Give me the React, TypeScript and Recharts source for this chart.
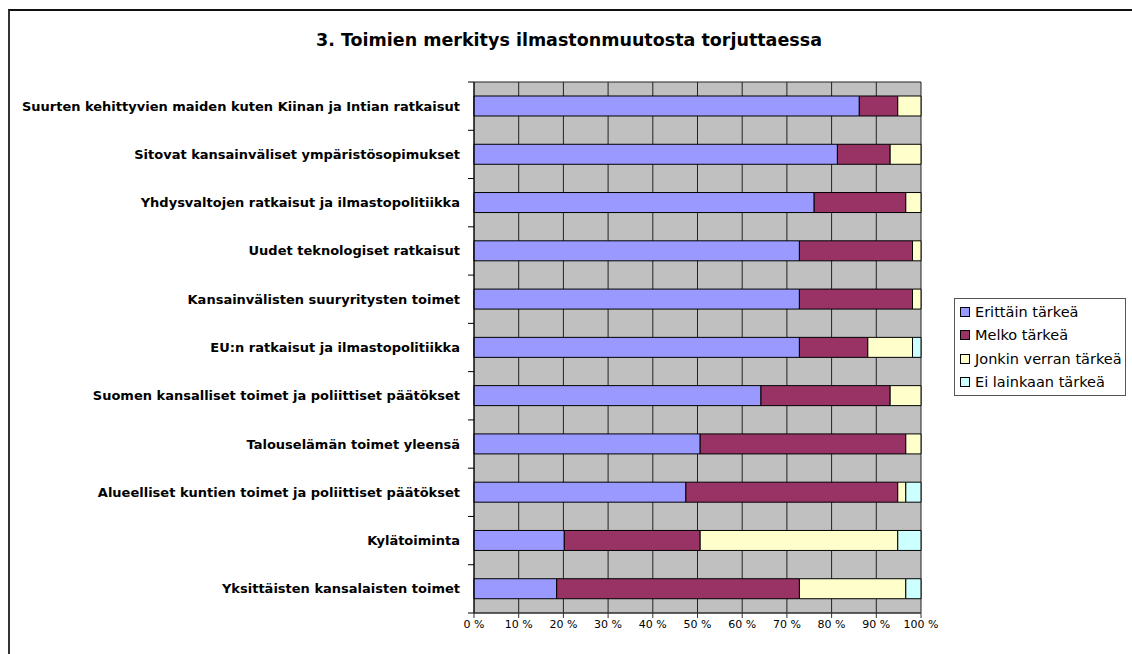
import { BarChart, Bar, XAxis, YAxis, CartesianGrid, Legend } from 'recharts';

const categories = [
  'Suurten kehittyvien maiden kuten Kiinan ja Intian ratkaisut',
  'Sitovat kansainväliset ympäristösopimukset',
  'Yhdysvaltojen ratkaisut ja ilmastopolitiikka',
  'Uudet teknologiset ratkaisut',
  'Kansainvälisten suuryritysten toimet',
  'EU:n ratkaisut ja ilmastopolitiikka',
  'Suomen kansalliset toimet ja poliittiset päätökset',
  'Talouselämän toimet yleensä',
  'Alueelliset kuntien toimet ja poliittiset päätökset',
  'Kylätoiminta',
  'Yksittäisten kansalaisten toimet',
];

const erittain = [86.2, 81.3, 76.1, 72.8, 72.8, 72.8, 64.2, 50.6, 47.4, 20.2, 18.5];
const melko = [8.6, 11.8, 20.5, 25.3, 25.3, 15.3, 28.9, 46.0, 47.4, 30.4, 54.3];
const jonkin = [5.2, 6.9, 3.4, 1.9, 1.9, 10.0, 6.9, 3.4, 1.8, 44.2, 23.8];
const ei = [0, 0, 0, 0, 0, 1.9, 0, 0, 3.4, 5.2, 3.4];

const seriesNames = ['Erittäin tärkeä', 'Melko tärkeä', 'Jonkin verran tärkeä', 'Ei lainkaan tärkeä'];
const seriesColors = ['#9999FF', '#993366', '#FFFFCC', '#CCFFFF'];
const xTicks = [0, 10, 20, 30, 40, 50, 60, 70, 80, 90, 100];

const data = categories.map((c, i) => ({
  name: c,
  s0: erittain[i],
  s1: melko[i],
  s2: jonkin[i],
  s3: ei[i],
}));

const FONT = '"DejaVu Sans", Tahoma, sans-serif';
const W = 1132;
const H = 654;
const M = { top: 82, right: 211, bottom: 0, left: 0 };
const X_AXIS_H = 41;
const Y_AXIS_W = 474;
const plotH = H - M.top - M.bottom - X_AXIS_H;
const band = plotH / categories.length;

const CategoryTick = (props: any) => {
  const { x, y, payload, index } = props;
  const ax = Y_AXIS_W;
  return (
    <g>
      <line x1={ax - 6} x2={ax} y1={y - band / 2} y2={y - band / 2} stroke="#000" />
      {index === categories.length - 1 && (
        <line x1={ax - 6} x2={ax} y1={y + band / 2} y2={y + band / 2} stroke="#000" />
      )}
      <text
        x={x - 6}
        y={y}
        dy={4.5}
        textAnchor="end"
        fontFamily={FONT}
        fontWeight="bold"
        fontSize={13}
        fill="#000"
      >
        {payload.value}
      </text>
    </g>
  );
};

const LegendBox = (props: any) => {
  const items = [...(props.payload || [])].sort(
    (a: any, b: any) => seriesNames.indexOf(a.value) - seriesNames.indexOf(b.value)
  );
  return (
    <div
      style={{
        border: '1px solid #555',
        background: '#fff',
        padding: '1px 0 1px 5px',
        fontFamily: FONT,
        fontSize: 14.5,
        color: '#000',
        boxSizing: 'border-box',
      }}
    >
      {items.map((p: any) => (
        <div key={p.value} style={{ display: 'flex', alignItems: 'center', height: 23.5, whiteSpace: 'nowrap' }}>
          <span
            style={{
              width: 8,
              height: 8,
              border: '1px solid #000',
              background: p.color,
              marginRight: 5,
              display: 'inline-block',
            }}
          />
          <span>{p.value}</span>
        </div>
      ))}
    </div>
  );
};

export default function App() {
  return (
    <div style={{ position: 'absolute', left: 0, top: 0, width: W, height: H, background: '#fff', overflow: 'hidden' }}>
      <div
        style={{
          position: 'absolute',
          left: 8,
          top: 9,
          width: W,
          height: H,
          borderTop: '2px solid #111',
          borderLeft: '2px solid #333',
        }}
      />
      <div
        style={{
          position: 'absolute',
          left: 0,
          top: 30,
          width: 1138,
          textAlign: 'center',
          fontFamily: FONT,
          fontWeight: 'bold',
          fontSize: 17.5,
          color: '#000',
        }}
      >
        3. Toimien merkitys ilmastonmuutosta torjuttaessa
      </div>
      <div style={{ position: 'absolute', left: 0, top: 0 }}>
        <BarChart
          width={W}
          height={H}
          data={data}
          layout="vertical"
          margin={M}
          barCategoryGap="29%"
        >
          <CartesianGrid
            fill="#C0C0C0"
            fillOpacity={1}
            stroke="#222"
            horizontalCoordinatesGenerator={({ offset }: any) => [offset.top, offset.top + offset.height]}
          />
          <XAxis
            type="number"
            domain={[0, 100]}
            ticks={xTicks}
            tickFormatter={(v: number) => v + ' %'}
            height={X_AXIS_H}
            axisLine={{ stroke: '#333' }}
            tickLine={{ stroke: '#333' }}
            tickSize={5}
            tick={{ fill: '#000', fontSize: 11, fontFamily: FONT }}
            interval={0}
          />
          <YAxis
            type="category"
            dataKey="name"
            width={Y_AXIS_W}
            axisLine={{ stroke: '#000' }}
            tickLine={false}
            tick={<CategoryTick />}
            interval={0}
          />
          <Legend
            layout="vertical"
            align="center"
            verticalAlign="middle"
            content={<LegendBox />}
            wrapperStyle={{ left: 954, top: 298, width: 172 }}
          />
          {seriesNames.map((n, i) => (
            <Bar
              key={n}
              dataKey={'s' + i}
              name={n}
              stackId="a"
              fill={seriesColors[i]}
              stroke="#000"
              strokeWidth={1}
              isAnimationActive={false}
            />
          ))}
        </BarChart>
      </div>
    </div>
  );
}
